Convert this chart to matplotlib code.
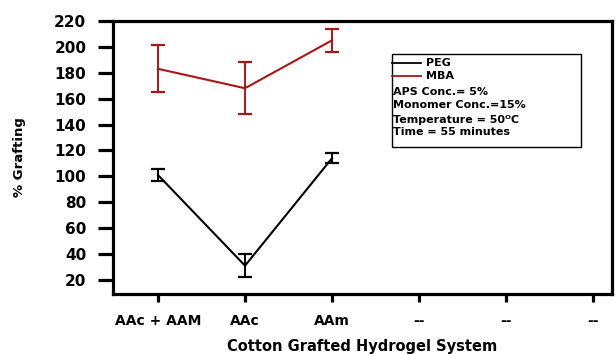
import matplotlib
matplotlib.use("Agg")
import matplotlib.pyplot as plt
from matplotlib.patches import Rectangle
from matplotlib.lines import Line2D

# grafting data for each hydrogel system
systems = ["AAc + AAM", "AAc", "AAm", "--", "--", "--"]
peg = [101, 31, 114]
peg_err = [5, 9, 4]
mba = [183, 168, 205]
mba_err = [18, 20, 9]
notes = ["APS Conc.= 5%", "Monomer Conc.=15%",
         "Temperature = 50\u1d3cC", "Time = 55 minutes"]

red = "#aa1616"
bold = dict(family="DejaVu Sans", weight="bold")

fig = plt.figure(figsize=(6.16, 3.54), dpi=100)
ax = fig.add_axes([0.183, 0.169, 0.811, 0.772])

x = list(range(len(systems)))
ax.errorbar(x[:3], peg, yerr=peg_err, color="black", lw=1.5,
            capsize=5, capthick=1.6, elinewidth=1.4)
ax.errorbar(x[:3], mba, yerr=mba_err, color=red, lw=1.5,
            capsize=5, capthick=1.6, elinewidth=1.4)

ax.set_xlim(-0.52, 5.22)
ax.set_ylim(9, 220)
ax.set_yticks(range(20, 221, 20))
ax.set_xticks(x)
ax.set_xticklabels(systems, fontsize=10, **bold)
for lab in ax.get_yticklabels():
    lab.set_fontsize(11)
    lab.set_fontfamily("DejaVu Sans")
    lab.set_fontweight("bold")

for s in ax.spines.values():
    s.set_linewidth(2.3)
ax.tick_params(axis="y", length=11, width=2.3, pad=8)
ax.tick_params(axis="x", length=6, width=2.3, pad=8)

ax.set_ylabel("% Grafting", fontsize=9.5, labelpad=20, **bold)
ax.set_xlabel("Cotton Grafted Hydrogel System", fontsize=10.5, labelpad=8, **bold)

# legend box with conditions
ax.add_patch(Rectangle((0.560, 0.538), 0.378, 0.341, transform=ax.transAxes,
                       fill=False, lw=1.0, ec="black"))
ax.add_line(Line2D([0.560, 0.617], [0.846, 0.846], transform=ax.transAxes,
                   color="black", lw=1.3))
ax.add_line(Line2D([0.560, 0.617], [0.797, 0.797], transform=ax.transAxes,
                   color=red, lw=1.3))
ax.text(0.628, 0.846, "PEG", transform=ax.transAxes, va="center", fontsize=8, **bold)
ax.text(0.628, 0.797, "MBA", transform=ax.transAxes, va="center", fontsize=8, **bold)
for yy, t in zip([0.741, 0.692, 0.637, 0.592], notes):
    ax.text(0.561, yy, t, transform=ax.transAxes, va="center", fontsize=8, **bold)

fig.savefig("out.png", dpi=100)
